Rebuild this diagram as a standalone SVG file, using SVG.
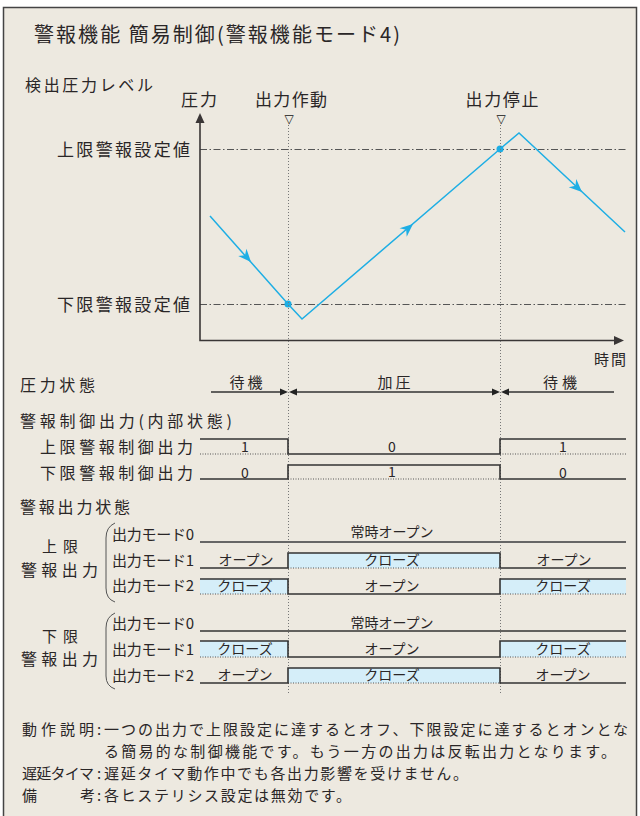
<svg xmlns="http://www.w3.org/2000/svg" width="640" height="816" viewBox="0 0 640 816">
<defs>
<style>
text{font-family:"Noto Sans CJK JP","Noto Sans CJK SC",sans-serif;fill:#2a2627}
.t20{font-size:20px}
.t17{font-size:17px}
.t16{font-size:16px}
.t15{font-size:15px}
.t14{font-size:14px}
.t13{font-size:13px}
.m{text-anchor:middle}
.tri{font-family:"DejaVu Sans",sans-serif;font-size:12px;fill:#111;text-anchor:middle}
.ax{stroke:#3a3636;stroke-width:1.6;fill:none}
.dd{stroke:#555;stroke-width:1;stroke-dasharray:7 2.5 1.5 2.5;fill:none}
.vd{stroke:#777;stroke-width:1;stroke-dasharray:1 2;fill:none}
.sig{stroke:#333;stroke-width:1.6;fill:none}
.hi{stroke:#666;stroke-width:2;fill:none}
.dot{stroke:#555;stroke-width:1;stroke-dasharray:1 1.5;fill:none}
.bl{fill:#d5eef9}
.pl{stroke:#1eaee4;stroke-width:1.5;fill:none}
.br{stroke:#555;stroke-width:1;fill:none}
</style>
<path id="ba" d="M0,0 L-13,-5.5 L-9,0 L-13,5.5 Z" fill="#1eaee4"/>
</defs>
<rect x="0" y="0" width="640" height="816" fill="#ffffff"/>
<rect x="3.5" y="7.5" width="633" height="820" fill="#ede9e0" stroke="#444" stroke-width="1.5"/>

<g id="title">
<text class="t20" x="34" y="42" textLength="366" lengthAdjust="spacing">警報機能 簡易制御(警報機能モード4)</text>
</g>

<g id="chart">
<text class="t16" x="25" y="91" textLength="128" lengthAdjust="spacing">検出圧力レベル</text>
<text class="t17" x="181" y="106" textLength="36" lengthAdjust="spacing">圧力</text>
<text class="t17 m" x="291" y="106" textLength="72" lengthAdjust="spacing">出力作動</text>
<text class="t17 m" x="502" y="106" textLength="73" lengthAdjust="spacing">出力停止</text>
<text class="tri" x="289" y="123">▽</text>
<text class="tri" x="501" y="123">▽</text>
<text class="t17" x="57" y="156" textLength="133" lengthAdjust="spacing">上限警報設定値</text>
<text class="t17" x="57" y="311" textLength="133" lengthAdjust="spacing">下限警報設定値</text>
<text class="t15" x="594" y="365" textLength="32" lengthAdjust="spacing">時間</text>
<path class="dd" d="M200,149.5 H626 M200,304.5 H626"/>
<path class="ax" d="M200,121 V340.5 H616"/>
<polygon points="200,113 195.5,123 204.5,123" fill="#3a3636"/>
<polygon points="624,340.5 614,336 614,345" fill="#3a3636"/>
<polyline class="pl" points="210,216 288,304 302,319 500,149 519,133 625,232"/>
<use href="#ba" transform="translate(251,262) rotate(48.2)"/>
<use href="#ba" transform="translate(413,224) rotate(-40.6)"/>
<use href="#ba" transform="translate(582,192) rotate(43)"/>
<circle cx="288" cy="304" r="3.5" fill="#1eaee4"/>
<circle cx="500" cy="149" r="3.5" fill="#1eaee4"/>
</g>

<g id="guides">
<path class="vd" d="M288.5,125 V694 M500.5,125 V694"/>
</g>

<g id="pressure-state">
<text class="t16" x="20" y="391" textLength="75" lengthAdjust="spacing">圧力状態</text>
<text class="t15 m" x="246" y="388" textLength="33" lengthAdjust="spacing">待機</text>
<text class="t15 m" x="394" y="388" textLength="33" lengthAdjust="spacing">加圧</text>
<text class="t15 m" x="560" y="388" textLength="34" lengthAdjust="spacing">待機</text>
<path class="sig" d="M211,392 H284 M293,392 H496 M505,392 H614"/>
<polygon points="288,392 280,388.5 280,395.5" fill="#222"/>
<polygon points="289,392 297,388.5 297,395.5" fill="#222"/>
<polygon points="500,392 492,388.5 492,395.5" fill="#222"/>
<polygon points="501,392 509,388.5 509,395.5" fill="#222"/>
</g>

<g id="control-output">
<text class="t16" x="20" y="427" textLength="212" lengthAdjust="spacing">警報制御出力(内部状態)</text>
<text class="t16" x="40" y="453" textLength="153" lengthAdjust="spacing">上限警報制御出力</text>
<text class="t16" x="40" y="479" textLength="153" lengthAdjust="spacing">下限警報制御出力</text>
<path class="dot" d="M200,454 H288 M500,454 H626 M288,479 H500"/>
<path class="sig" d="M200,439 H288 V454 H500 V439 H626"/>
<path class="sig" d="M200,479 H288 V465 H500 V479 H626"/>
<text class="t14 m" x="245" y="452">1</text>
<text class="t14 m" x="392" y="452">0</text>
<text class="t14 m" x="563" y="452">1</text>
<text class="t14 m" x="245" y="478">0</text>
<text class="t14 m" x="392" y="477">1</text>
<text class="t14 m" x="563" y="478">0</text>
</g>

<g id="upper-alarm-output">
<text class="t16" x="20" y="513" textLength="110" lengthAdjust="spacing">警報出力状態</text>
<text class="t15 m" x="60" y="552" textLength="36" lengthAdjust="spacing">上限</text>
<text class="t16" x="21" y="576" textLength="77" lengthAdjust="spacing">警報出力</text>
<path class="br" d="M115,523 Q106,527 106,538 V588 Q106,599 115,602"/>
<text class="t15" x="112" y="540" textLength="82" lengthAdjust="spacing">出力モード0</text>
<text class="t15" x="112" y="566" textLength="82" lengthAdjust="spacing">出力モード1</text>
<text class="t15" x="112" y="591" textLength="82" lengthAdjust="spacing">出力モード2</text>
<rect class="bl" x="288" y="553" width="212" height="15"/>
<rect class="bl" x="200" y="579" width="88" height="15"/>
<rect class="bl" x="500" y="579" width="126" height="15"/>
<path class="dot" d="M288,568 H500 M200,594 H288 M500,594 H626"/>
<path class="hi" d="M200,542 H626"/>
<path class="sig" d="M200,568 H288 V553 H500 V568 H626"/>
<path class="sig" d="M200,579 H288 V594 H500 V579 H626"/>
<text class="t14 m" x="392" y="537">常時オープン</text>
<text class="t14 m" x="246" y="565">オープン</text>
<text class="t14 m" x="392" y="565">クローズ</text>
<text class="t14 m" x="564" y="565">オープン</text>
<text class="t14 m" x="245" y="591">クローズ</text>
<text class="t14 m" x="392" y="591">オープン</text>
<text class="t14 m" x="563" y="591">クローズ</text>
</g>

<g id="lower-alarm-output">
<text class="t15 m" x="60" y="642" textLength="36" lengthAdjust="spacing">下限</text>
<text class="t16" x="21" y="665" textLength="77" lengthAdjust="spacing">警報出力</text>
<path class="br" d="M115,613 Q106,617 106,628 V676 Q106,686 115,689"/>
<text class="t15" x="112" y="629" textLength="82" lengthAdjust="spacing">出力モード0</text>
<text class="t15" x="112" y="655" textLength="82" lengthAdjust="spacing">出力モード1</text>
<text class="t15" x="112" y="681" textLength="82" lengthAdjust="spacing">出力モード2</text>
<rect class="bl" x="200" y="641" width="88" height="16"/>
<rect class="bl" x="500" y="641" width="126" height="16"/>
<rect class="bl" x="288" y="668" width="212" height="15"/>
<path class="dot" d="M200,657 H288 M500,657 H626 M288,683 H500"/>
<path class="sig" d="M200,631 H626"/>
<path class="sig" d="M200,641 H288 V657 H500 V641 H626"/>
<path class="sig" d="M200,683 H288 V668 H500 V683 H626"/>
<text class="t14 m" x="392" y="628">常時オープン</text>
<text class="t14 m" x="245" y="654">クローズ</text>
<text class="t14 m" x="392" y="654">オープン</text>
<text class="t14 m" x="563" y="654">クローズ</text>
<text class="t14 m" x="245" y="680">オープン</text>
<text class="t14 m" x="392" y="680">クローズ</text>
<text class="t14 m" x="563" y="680">オープン</text>
</g>

<g id="notes">
<text class="t15" x="22" y="735" textLength="72" lengthAdjust="spacing">動 作 説 明</text>
<text class="t15" x="97" y="735">:</text>
<text class="t15" x="104" y="735" textLength="524" lengthAdjust="spacing">一つの出力で上限設定に達するとオフ、下限設定に達するとオンとな</text>
<text class="t15" x="104" y="757" textLength="512" lengthAdjust="spacing">る簡易的な制御機能です。もう一方の出力は反転出力となります。</text>
<text class="t15" x="22" y="779" textLength="72" lengthAdjust="spacing">遅延タイマ</text>
<text class="t15" x="97" y="779">:</text>
<text class="t15" x="104" y="779" textLength="364" lengthAdjust="spacing">遅延タイマ動作中でも各出力影響を受けません。</text>
<text class="t15" x="22" y="801">備</text>
<text class="t15" x="80" y="801">考</text>
<text class="t15" x="97" y="801">:</text>
<text class="t15" x="104" y="801" textLength="247" lengthAdjust="spacing">各ヒステリシス設定は無効です。</text>
</g>
</svg>
